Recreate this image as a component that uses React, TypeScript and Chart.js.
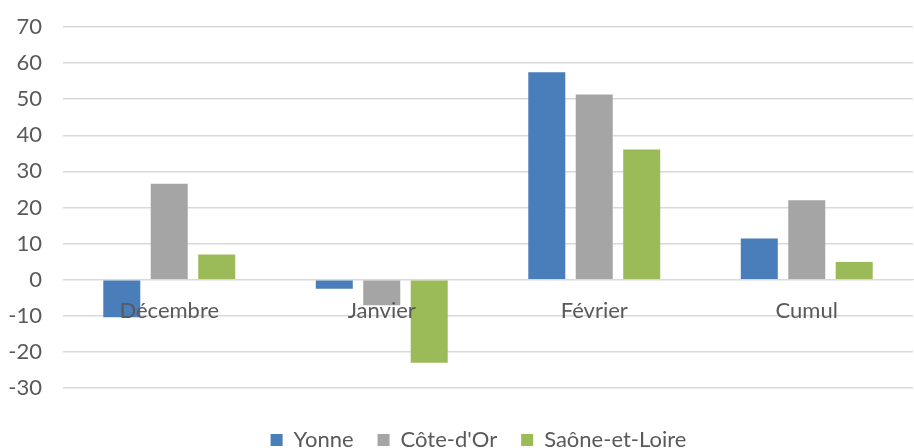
import React, { useEffect, useRef } from "react";
import { Chart, registerables } from "chart.js";

Chart.register(...registerables);

const categories = ["Décembre", "Janvier", "Février", "Cumul"];
const seriesNames = ["Yonne", "Côte-d'Or", "Saône-et-Loire"];
const yonne = [-10.4, -2.5, 57.5, 11.4];
const coteDOr = [26.6, -7.1, 51.3, 22.0];
const saoneEtLoire = [7.0, -23.0, 36.1, 4.9];
const colors = ["#4a7ebb", "#a5a5a5", "#9bbb59"];
const yMin = -30;
const yMax = 70;
const yStep = 10;

const FONT = "Lato, 'Open Sans', sans-serif";
const TEXT = "#595959";

export default function App() {
  const ref = useRef<HTMLCanvasElement | null>(null);

  useEffect(() => {
    document.body.style.margin = "0";
    const canvas = ref.current;
    if (!canvas) return;
    const legendHeightPlugin = {
      id: "legendHeight",
      afterInit(chart: any) {
        const lg = chart.legend;
        if (!lg) return;
        const orig = lg.fit.bind(lg);
        lg.fit = function () {
          orig();
          this.height = 60;
        };
      },
      afterLayout(chart: any) {
        const lg = chart.legend;
        if (!lg) return;
        lg.left += 22;
        lg.right += 22;
      },
    };
    const chart = new Chart(canvas, {
      type: "bar",
      data: {
        labels: categories,
        datasets: [yonne, coteDOr, saoneEtLoire].map((d, i) => ({
          label: seriesNames[i],
          data: d,
          backgroundColor: colors[i],
          borderWidth: 0,
          categoryPercentage: 0.67,
          barPercentage: 0.78,
        })),
      },
      options: {
        animation: false,
        responsive: false,
        maintainAspectRatio: false,
        layout: { padding: { top: 27, right: 1, left: 0, bottom: 0 } },
        scales: {
          x: {
            type: "category",
            position: { y: 0 } as any,
            grid: { display: false, drawTicks: false },
            border: { display: true, color: "#d9d9d9", width: 1 },
            ticks: {
              z: 1,
              color: TEXT,
              font: { family: FONT, size: 22 },
              padding: 18,
              maxRotation: 0,
            },
          },
          y: {
            min: yMin,
            max: yMax,
            afterFit(scale: any) {
              scale.width = 63;
              scale.paddingTop = 0;
              scale.paddingBottom = 0;
            },
            grid: { color: "#d9d9d9", lineWidth: 1.5, drawTicks: false },
            border: { display: false },
            ticks: {
              stepSize: yStep,
              color: TEXT,
              font: { family: FONT, size: 22 },
              padding: 21,
            },
          },
        },
        plugins: {
          tooltip: { enabled: false },
          legend: {
            position: "bottom",
            title: {
              display: true,
              text: "",
              font: { size: 10, lineHeight: 1 },
              padding: { top: 7, bottom: 0 },
            },
            labels: {
              boxWidth: 12,
              boxHeight: 12,
              padding: 24,
              color: TEXT,
              font: { family: FONT, size: 22 },
            },
          },
        },
      },
      plugins: [legendHeightPlugin],
    });
    return () => chart.destroy();
  }, []);

  return (
    <div style={{ width: 914, height: 448, background: "#fff" }}>
      <canvas ref={ref} width={914} height={448} />
    </div>
  );
}
